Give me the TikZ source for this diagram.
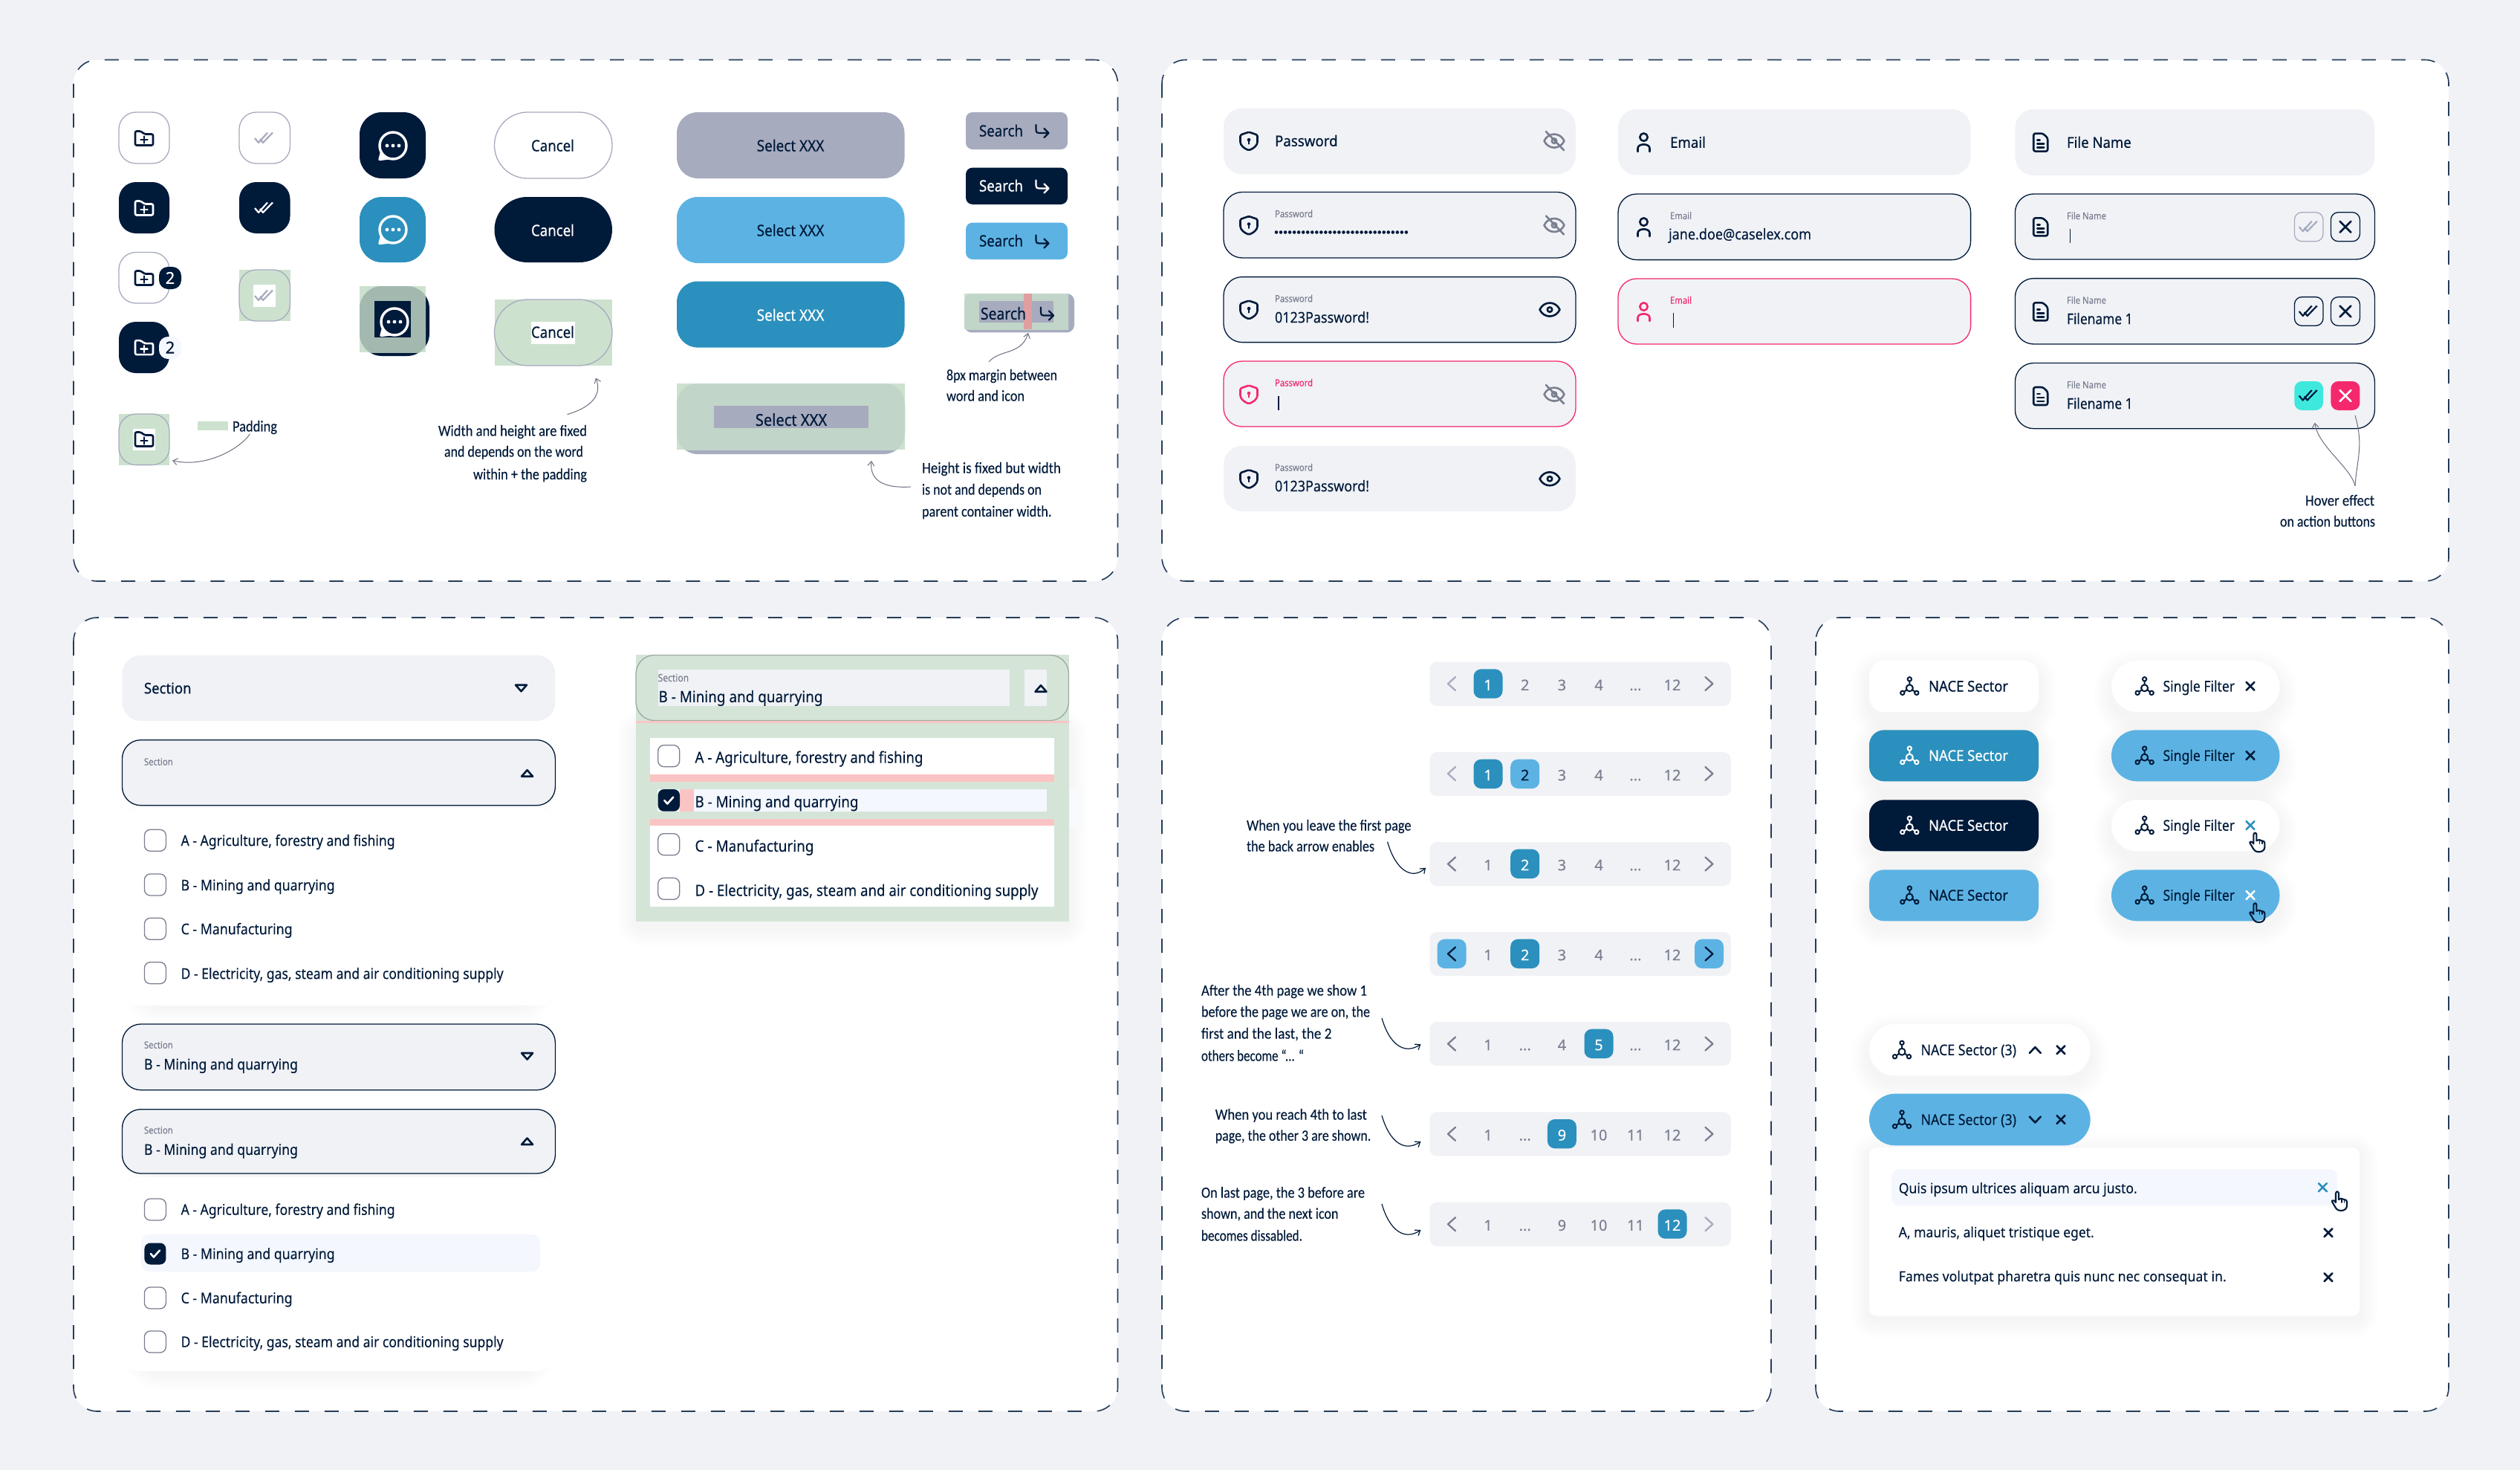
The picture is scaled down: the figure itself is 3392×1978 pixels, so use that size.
\documentclass[tikz,border=0pt]{standalone}
\usepackage{fontspec}
\usepackage{graphicx}
\usetikzlibrary{arrows.meta}
\setmainfont{Noto Sans}
\newfontfamily\uimed[FakeBold=0.55]{Noto Sans}
\newfontfamily\uireg[FakeBold=0.12]{Noto Sans}
\newfontfamily\handf[FakeBold=0.15]{Carlito}
\definecolor{cNavy}{HTML}{001A3A}
\definecolor{cGray}{HTML}{A7ABBE}
\definecolor{cLbl}{HTML}{7A7F90}
\definecolor{cLight}{HTML}{5CB3E3}
\definecolor{cMid}{HTML}{2B90BD}
\definecolor{cPage}{HTML}{F0F2F6}
\definecolor{cHov}{HTML}{F4F7FD}
\definecolor{cPink}{HTML}{F5286E}
\definecolor{cTeal}{HTML}{3EE8DC}
\definecolor{cGrn}{HTML}{CDE1CF}
\definecolor{cGrnB}{HTML}{C2D5C9}
\definecolor{cGrnC}{HTML}{D4E5D7}
\definecolor{cStrip}{HTML}{FBC4C4}
\definecolor{cArr}{HTML}{6B7080}
\newcounter{nn}
\newcommand\Dts{.\kern0pt.\kern0pt.}
\tikzset{
  txt/.style={inner sep=0pt,outer sep=0pt,anchor=base west,text=cNavy,font=\uireg},
  med/.style={font=\uimed},
  hnd/.style={font=\handf},
  ctr/.style={anchor=base},
  lbl/.style={text=cLbl},
  icn/.style={line width=2.6pt,line cap=round,line join=round},
  panel/.style={fill=white,draw=cNavy!85!white,line width=1.6pt,dash pattern=on 19pt off 21pt},
  outl/.style={draw=cGray,line width=1.3pt,fill=white},
  field/.style={fill=cPage},
  fieldO/.style={fill=cPage,draw=cNavy,line width=1.3pt},
  fieldE/.style={fill=cPage,draw=cPink,line width=1.3pt},
  cbx/.style={draw=cLbl,line width=1.3pt,fill=white},
  note/.style={draw=cArr,line width=1pt},
  tip/.style={-{Straight Barb[length=6pt,width=9pt]}},
}
\newcommand\Rc[6][]{\path[rounded corners=#6pt,#1] (#2,#3) rectangle (#4,#5);}
\newcommand\Tx[6][]{\stepcounter{nn}\node[txt,#1] (n\thenn) at (#2,{#3+0.36*#4}) {\fontsize{#4}{#4}\selectfont\ifdim#5pt=0pt\relax #6\else\resizebox{#5pt}{\height}{#6}\fi};}
\newcommand\Shd[6]{\foreach \k in {1,...,10}{\pgfmathsetmacro\rr{#5+2.5*\k}\path[fill=black,fill opacity=0.005,rounded corners=\rr pt] ({#1-2.5*\k},{#2-2.5*\k+#6}) rectangle ({#3+2.5*\k},{#4+2.5*\k+#6});}}
\newcommand\IcFolder[3]{\begin{scope}[shift={(#1,#2)},icn,color=#3]
 \draw[rounded corners=2pt] (-12,-9.5)--(-4,-9.5)--(0,-5.5)--(12,-5.5)--(12,9.5)--(-12,9.5)--cycle;
 \draw (-4.5,2)--(4.5,2) (0,-2.5)--(0,6.5);\end{scope}}
\newcommand\IcCheck[3]{\begin{scope}[shift={(#1,#2)},icn,color=#3,line width=2.2pt,line cap=butt]
 \draw (-13,0)--(-8,6)--(4,-7.5) (-6,1)--(-2,6)--(11,-7.5);\end{scope}}
\newcommand\IcChat[3]{\begin{scope}[shift={(#1,#2)},icn,color=#3,line width=3.4pt]
 \draw (0,0) circle[radius=18];
 \draw[fill=#3] (-6,17)--(-18,18.5)--(-15.5,9);
 \fill (-8,0) circle[radius=2.4] (0,0) circle[radius=2.4] (8,0) circle[radius=2.4];\end{scope}}
\newcommand\IcShield[3]{\begin{scope}[shift={(#1,#2)},icn,color=#3]
 \draw[rounded corners=1.5pt] (0,-12)--(11.5,-8)--(11.5,0) .. controls (11.5,6) and (6,10.5) .. (0,12.5) .. controls (-6,10.5) and (-11.5,6) .. (-11.5,0)--(-11.5,-8)--cycle;
 \fill (0,-1.5) circle[radius=2.3];\draw[line width=2pt] (0,-1)--(0,4);\end{scope}}
\newcommand\IcEye[3]{\begin{scope}[shift={(#1,#2)},icn,color=#3]
 \draw (-13.5,0) .. controls (-8,-12) and (8,-12) .. (13.5,0) .. controls (8,12) and (-8,12) .. (-13.5,0)--cycle;
 \draw (0,0) circle[radius=3.2];\end{scope}}
\newcommand\IcEyeOff[2]{\IcEye{#1}{#2}{cLbl}\begin{scope}[shift={(#1,#2)},icn,color=cLbl]\draw (-11,-12.5)--(13,12.5);\end{scope}}
\newcommand\IcPerson[3]{\begin{scope}[shift={(#1,#2)},icn,color=#3]
 \draw (0,-7) circle[radius=5.2];
 \draw (-8,12.5)--(-8,8) .. controls (-8,1) and (8,1) .. (8,8)--(8,12.5);\end{scope}}
\newcommand\IcDoc[3]{\begin{scope}[shift={(#1,#2)},icn,color=#3]
 \draw[rounded corners=2.5pt] (-9.5,-12)--(3,-12)--(9.5,-6)--(9.5,12)--(-9.5,12)--cycle;
 \draw (-4.5,-3)--(-1,-3) (-4.5,2)--(4.5,2) (-4.5,7)--(4.5,7);\end{scope}}
\newcommand\IcTri[3]{\begin{scope}[shift={(#1,#2)},icn,color=cNavy,yscale=#3]
 \draw (-7.5,-4)--(7.5,-4)--(0,4.5)--cycle;\end{scope}}
\newcommand\IcRet[3]{\begin{scope}[shift={(#1,#2)},icn,color=#3,line width=2.2pt]
 \draw (0,0)--(0,7) .. controls (0,10) and (1,11) .. (4,11)--(17,11) (11,5)--(17,11)--(11,17);\end{scope}}
\newcommand\IcNet[3]{\begin{scope}[shift={(#1,#2)},icn,color=#3,line width=2pt]
 \draw (0,-9.5) circle[radius=2.7] (-9.5,9) circle[radius=2.7] (9.5,9) circle[radius=2.7] (0,2.5) circle[radius=4.5];
 \draw (0,-6.8)--(0,-2) (-3.8,4.8)--(-7.2,7.6) (3.8,4.8)--(7.2,7.6);\end{scope}}
\newcommand\IcX[4]{\begin{scope}[shift={(#1,#2)},icn,color=#3]\draw (-#4,-#4)--(#4,#4) (-#4,#4)--(#4,-#4);\end{scope}}
\newcommand\IcHand[2]{\begin{scope}[shift={(#1,#2)},icn,color=cNavy,line width=2.1pt]
 \draw (-5,2)--(-5,-10) .. controls (-5,-13.5) and (-1,-13.5) .. (-1,-10)--(-1,-2) .. controls (2,-4) and (5,-3) .. (6,-2) .. controls (8,-2) and (10,-1) .. (10,1)--(10,6) .. controls (10,11) and (6,13) .. (2,13) .. controls (-3,13) and (-5,10) .. (-7,6)--(-10,1) .. controls (-11,-1) and (-7,-2) .. (-5,2);
 \draw[line width=1.5pt] (3,-3)--(3,2) (6.5,-2)--(6.5,2);\end{scope}}
\newcommand\IcChev[4]{\begin{scope}[shift={(#1,#2)},icn,color=#3,line width=2.3pt,xscale=#4]\draw (5,-9)--(-5,0)--(5,9);\end{scope}}
\newcommand\Cb[2]{\path[cbx,rounded corners=8pt] (#1,#2) rectangle ({#1+29},{#2+29});}
\newcommand\PBar[8]{\Rc[field]{1924.3}{#1}{2329.8}{#1+59.2}{10}
 \foreach \i/\lab/\cx in {1/#3/2003,2/#4/2052.7,3/#5/2102.4,4/#6/2152,5/#7/2201.4,6/#8/2251}{
  \ifnum\i=#2 \Rc[fill=cMid]{\cx-19.5}{#1+9.7}{\cx+19.5}{#1+49}{10}\Tx[ctr,text=white]{\cx}{#1+31}{20}{0}{\lab}
  \else\Tx[ctr,lbl]{\cx}{#1+31}{20}{0}{\lab}\fi}}
\begin{document}
\begin{tikzpicture}[x=1pt,y=-1pt]
\path[use as bounding box,fill=cPage] (0,0) rectangle (3392,1978);
% panels
\Rc[panel]{99}{80.5}{1504.5}{782}{32}
\Rc[panel]{1564}{80.5}{3296}{782}{32}
\Rc[panel]{99}{831}{1504.5}{1899}{32}
\Rc[panel]{1564}{831}{2384}{1899}{32}
\Rc[panel]{2444}{831}{3296}{1899}{32}
% folder buttons
\Rc[outl]{160}{151}{228}{220}{23}\IcFolder{194}{186}{cNavy}
\Rc[fill=cNavy]{160}{245}{228}{314}{23}\IcFolder{194}{280}{white}
\Rc[outl]{160}{339.5}{228}{408}{23}\IcFolder{194}{374}{cNavy}
\Rc[fill=cNavy]{214}{359}{244}{389}{12}\Tx[ctr,med,text=white]{229}{374}{22}{0}{2}
\Rc[fill=cNavy]{160}{433}{228}{502}{23}\IcFolder{194}{467.6}{white}
\Rc[fill=cHov]{214}{453}{244}{483}{12}\Tx[ctr,med]{229}{467.6}{22}{0}{2}
\path[fill=cGrn] (160,557) rectangle (228,625.6);
\Rc[draw=cGray,line width=1.3pt]{160}{557}{228}{625.6}{23}
\path[fill=white] (179,577) rectangle (209.4,606);\IcFolder{194}{591}{cNavy}
\path[fill=cGrn] (266,567) rectangle (307,579);
\Tx[hnd]{313}{573}{21}{60}{Padding}
\coordinate (a1s) at (336.4,584);\coordinate (a1e) at (232,619.6);
\draw[note,tip] (a1s) .. controls (322,605) and (275,630) .. (a1e);
% check buttons
\Rc[outl]{322}{151}{390.5}{220}{23}\IcCheck{356}{186}{cGray}
\Rc[fill=cNavy]{322}{245}{390.5}{314}{23}\IcCheck{356}{280}{white}
\path[fill=cGrn] (322,363) rectangle (390.5,432);
\Rc[draw=cGray,line width=1.3pt]{322}{363}{390.5}{432}{23}
\path[fill=white] (341,383) rectangle (371,412.5);\IcCheck{356}{398}{cGray}
% chat buttons
\Rc[fill=cNavy]{484}{151}{573}{240}{30}\IcChat{529}{196}{white}
\Rc[fill=cMid]{484}{265}{573}{353}{30}\IcChat{529}{309}{white}
\Rc[fill=cNavy]{484}{385}{578}{479}{30}
\path[fill=cGrn] (484,385) rectangle (573,474);
\begin{scope}\clip (484,385) rectangle (573,474);\Rc[fill={rgb,255:red,163;green,185;blue,176}]{484}{385}{578}{479}{30}\end{scope}
\path[fill=cNavy] (504,405) rectangle (553,454);\IcChat{531}{433}{white}
% cancel
\Rc[outl]{665.5}{151}{824}{240}{44.5}\Tx[ctr,med]{744}{196}{21}{58}{Cancel}
\Rc[fill=cNavy]{665.5}{265}{824}{353}{44}\Tx[ctr,med,text=white]{744}{310}{21}{58}{Cancel}
\path[fill=cGrn] (665.5,403) rectangle (824,492);
\Rc[draw=cGray,line width=1.3pt]{665.5}{403}{824}{492}{44.5}
\path[fill=white] (714.5,433) rectangle (774,462.5);\Tx[ctr,med]{744}{447}{21}{58}{Cancel}
\coordinate (a2s) at (763.5,557.6);\coordinate (a2e) at (802,508.5);
\draw[note,tip] (a2s) .. controls (790,550) and (812,535) .. (a2e);
\Tx[hnd]{590}{579}{21}{200}{Width and height are fixed}
\Tx[hnd]{598}{607}{21}{187}{and depends on the word}
\Tx[hnd]{637}{637.5}{21}{153}{within + the padding}
% select
\Rc[fill=cGray]{911}{151}{1217.5}{240}{28}\Tx[ctr,med]{1064}{196}{21}{90.6}{Select XXX}
\Rc[fill=cLight]{911}{265}{1217.5}{354}{28}\Tx[ctr,med]{1064}{310}{21}{90.6}{Select XXX}
\Rc[fill=cMid]{911}{378.5}{1217.5}{467.6}{28}\Tx[ctr,med,text=white]{1064}{424}{21}{90.6}{Select XXX}
\Rc[fill=cGray]{911}{516}{1218}{611}{28}
\path[fill=cGrn] (911,516) rectangle (1218,605);
\begin{scope}\clip (911,516) rectangle (1218,605);\Rc[fill=cGrnB]{911}{516}{1218}{611}{28}\end{scope}
\path[fill=cGray] (961,546) rectangle (1168.6,575.5);
\Tx[ctr,med]{1065}{565}{22}{96.3}{Select XXX}
% search
\Rc[fill=cGray]{1300}{151}{1437}{201}{9}\Tx[med]{1318}{176}{21}{59}{Search}\IcRet{1394.5}{168}{cNavy}
\Rc[fill=cNavy]{1300}{225.6}{1437}{275}{9}\Tx[med,text=white]{1318}{250}{21}{59}{Search}\IcRet{1394.5}{242.5}{white}
\Rc[fill=cLight]{1300}{299.6}{1437}{349}{9}\Tx[med]{1318}{324}{21}{59}{Search}\IcRet{1394.5}{316.5}{cNavy}
\Rc[fill=cGray]{1298}{395}{1446}{447.4}{10}
\path[fill=cGrn] (1298,395) rectangle (1438,443);
\begin{scope}\clip (1298,395) rectangle (1438,443);\Rc[fill=cGrnB]{1298}{395}{1446}{447.4}{10}\end{scope}
\path[fill=cGray] (1318,405) rectangle (1418,434);
\path[fill={rgb,255:red,224;green,158;blue,160}] (1378,395) rectangle (1388.6,443);
\Tx[med]{1320}{422}{22}{61}{Search}\IcRet{1401}{413.5}{cNavy}
\coordinate (a3s) at (1331,487);\coordinate (a3e) at (1384,448);
\draw[note,tip] (a3s) .. controls (1345,470) and (1375,478) .. (a3e);
\Tx[hnd]{1274}{504}{21}{149}{8px margin between}
\Tx[hnd]{1274}{532}{21}{105}{word and icon}
\coordinate (a4s) at (1226,655);\coordinate (a4e) at (1173,620);
\draw[note,tip] (a4s) .. controls (1195,657) and (1170,650) .. (a4e);
\Tx[hnd]{1241}{629}{21}{187}{Height is fixed but width}
\Tx[hnd]{1241}{658}{21}{161}{is not and depends on}
\Tx[hnd]{1241}{687.5}{21}{174.5}{parent container width.}
% password column
\Rc[field]{1647}{145.6}{2121}{234.4}{25}\IcShield{1681}{189.6}{cNavy}\Tx[med]{1716}{189.6}{20}{84.6}{Password}\IcEyeOff{2092}{189.6}
\Rc[fieldO]{1647}{258.5}{2121}{347}{25}\IcShield{1681}{303}{cNavy}\Tx[lbl]{1716}{287.6}{13}{51}{Password}\IcEyeOff{2092}{303}
\foreach \dq in {0,...,29}{\fill[cNavy] ({1718+6.03*\dq},312.5) circle[radius=2.3];}
\Rc[fieldO]{1647}{372.6}{2121}{460.6}{25}\IcShield{1681}{416.6}{cNavy}\Tx[lbl]{1716}{401.7}{13}{51}{Password}\Tx{1716}{427}{20}{127}{0123Password!}\IcEye{2086}{416.6}{cNavy}
\Rc[fieldE]{1647}{486}{2121}{574}{25}\IcShield{1681}{530.6}{cPink}\Tx[text=cPink]{1716}{515}{13}{51}{Password}\IcEyeOff{2092}{530.6}
\draw[cNavy,line width=1.4pt] (1720.8,532.5)--(1720.8,551.7);
\Rc[field]{1647}{600}{2121}{688}{25}\IcShield{1681}{644.3}{cNavy}\Tx[lbl]{1716}{629}{13}{51}{Password}\Tx{1716}{654}{20}{127}{0123Password!}\IcEye{2086}{644.3}{cNavy}
% email column
\Rc[field]{2178}{147}{2652.6}{235.6}{25}\IcPerson{2212.5}{191.6}{cNavy}\Tx[med]{2248}{191.6}{20}{48}{Email}
\Rc[fieldO]{2178}{261}{2652.6}{349.6}{25}\IcPerson{2212.5}{305.6}{cNavy}\Tx[lbl]{2248}{290.3}{13}{29}{Email}\Tx{2246}{315}{20}{192}{jane.doe@caselex.com}
\Rc[fieldE]{2178}{375}{2652.6}{463}{25}\IcPerson{2212.5}{419.6}{cPink}\Tx[text=cPink]{2248}{404}{13}{29}{Email}
\draw[cNavy,line width=1.4pt] (2252.4,421)--(2252.4,440.7);
% file column
\Rc[field]{2712.4}{147}{3196.4}{236}{25}\IcDoc{2746.7}{191.6}{cNavy}\Tx[med]{2782}{191.6}{20}{86.7}{File Name}
\Rc[fieldO]{2712.4}{261}{3196.4}{349}{25}\IcDoc{2746.7}{305.4}{cNavy}\Tx[lbl]{2782}{290.4}{13}{53}{File Name}
\draw[cNavy,line width=1.4pt] (2786.6,307.8)--(2786.6,326.8);
\Rc[draw=cGray,line width=1.3pt]{3088.4}{285.7}{3127}{324.8}{10}\IcCheck{3107.7}{305.2}{cGray}
\Rc[draw=cNavy,line width=1.3pt]{3137.4}{285.7}{3176.4}{324.8}{10}\IcX{3157}{305.2}{cNavy}{7.5}
\Rc[fieldO]{2712.4}{374.6}{3196.4}{463}{25}\IcDoc{2746.7}{419.3}{cNavy}\Tx[lbl]{2782}{404}{13}{53}{File Name}\Tx{2782}{429}{20}{88.5}{Filename 1}
\Rc[draw=cNavy,line width=1.3pt]{3088.4}{399.6}{3127}{438.3}{10}\IcCheck{3107.7}{419}{cNavy}
\Rc[draw=cNavy,line width=1.3pt]{3137.4}{399.6}{3176.4}{438.3}{10}\IcX{3157}{419}{cNavy}{7.5}
\Rc[fieldO]{2712.4}{488.5}{3196.4}{576.7}{25}\IcDoc{2746.7}{533}{cNavy}\Tx[lbl]{2782}{517.8}{13}{53}{File Name}\Tx{2782}{543}{20}{88.5}{Filename 1}
\Rc[fill=cTeal]{3088.4}{513}{3127}{552}{10}\IcCheck{3107.7}{532.5}{cNavy}
\Rc[fill=cPink]{3137.4}{513}{3176.4}{552}{10}\IcX{3157}{532.5}{white}{7.5}
\coordinate (a5s) at (3170,653.8);\coordinate (a5e) at (3115.7,568.8);\coordinate (a5f) at (3170,559);
\draw[note,tip] (a5s) .. controls (3165,630) and (3120,600) .. (a5e);
\draw[note] (a5s) .. controls (3172,620) and (3182,600) .. (a5f);
\Tx[hnd]{3103}{672.8}{21}{93}{Hover effect}
\Tx[hnd]{3069}{701}{21}{128}{on action buttons}
% dropdowns left
\Rc[field]{164.5}{881.7}{747.4}{970}{25}\Tx[med]{194}{926}{20}{63.5}{Section}\IcTri{701.5}{925.7}{1}
\Shd{190}{1086.7}{722}{1353}{25}{0}
\Rc[fill=white]{164.5}{1086.7}{747.4}{1353}{25}
\Rc[fieldO]{164.5}{995.7}{747.4}{1083.7}{25}\Tx[lbl]{194}{1025}{13}{38.7}{Section}\IcTri{709.6}{1040.7}{-1}
\Cb{194.4}{1116.3}\Tx{243.6}{1131}{20}{288}{A - Agriculture, forestry and fishing}
\Cb{194.4}{1176}\Tx{243.6}{1191}{20}{207}{B - Mining and quarrying}
\Cb{194.4}{1235.3}\Tx{243.6}{1250}{20}{150}{C - Manufacturing}
\Cb{194.4}{1294.7}\Tx{243.6}{1310}{20}{434}{D - Electricity, gas, steam and air conditioning supply}
\Rc[fieldO]{164.5}{1378}{747.4}{1466.7}{25}\Tx[lbl]{194}{1406}{13}{38.7}{Section}\Tx{194}{1432}{20}{207}{B - Mining and quarrying}\IcTri{709.6}{1421}{1}
\Shd{190}{1583.7}{722}{1845}{25}{0}
\Rc[fill=white]{164.5}{1583.7}{747.4}{1845}{25}
\Rc[fieldO]{164.5}{1492.7}{747.4}{1579}{25}\Tx[lbl]{194}{1520.7}{13}{38.7}{Section}\Tx{194}{1546.7}{20}{207}{B - Mining and quarrying}\IcTri{709.6}{1536}{-1}
\Rc[fill=cHov]{190}{1661}{727}{1711}{10}
\Cb{194.4}{1613}\Tx{243.6}{1627.5}{20}{288}{A - Agriculture, forestry and fishing}
\Rc[fill=cNavy]{194.4}{1672.5}{223.4}{1701.5}{8}\begin{scope}[shift={(208.9,1687)}]\draw[white,icn] (-6,0)--(-2,4.5)--(6,-4.5);\end{scope}
\Tx{243.6}{1687}{20}{207}{B - Mining and quarrying}
\Cb{194.4}{1732}\Tx{243.6}{1746.5}{20}{150}{C - Manufacturing}
\Cb{194.4}{1791}\Tx{243.6}{1805.5}{20}{434}{D - Electricity, gas, steam and air conditioning supply}
% dropdown anatomy
\Shd{855.5}{973}{1439}{1240}{10}{8}
\path[fill=cGrnC] (855.5,880.7) rectangle (1439,970);
\Rc[draw=cGrnB!80!black,line width=1.3pt]{856}{881.5}{1438.5}{969.5}{25}
\path[fill=cPage] (885.7,900.7) rectangle (1359,950);
\path[fill=cPage] (1379,900.7) rectangle (1409.4,950);
\Tx[lbl]{885.7}{912}{14}{41.5}{Section}\Tx{886.5}{937.3}{21}{221}{B - Mining and quarrying}\IcTri{1401}{926.7}{-1}
\path[fill=cStrip] (855.5,970) rectangle (1439,973.3);
\path[fill={rgb,255:red,248;green,250;blue,254}] (1439,1062) rectangle (1456,1113);
\path[fill=cGrnC] (855.5,973.3) rectangle (1439,1240);
\path[fill=white] (875,992.7) rectangle (1419,1042);
\path[fill=cStrip] (875,1042) rectangle (1419,1052);
\path[fill=cHov] (885,1062) rectangle (1409,1091.7);
\path[fill=cStrip] (915,1062) rectangle (934,1091.7);
\path[fill=cStrip] (875,1101.7) rectangle (1419,1111);
\path[fill=white] (875,1111) rectangle (1419,1220);
\Cb{885.7}{1002.7}\Tx{935.5}{1019}{21}{307}{A - Agriculture, forestry and fishing}
\Rc[fill=cNavy]{885.7}{1062}{915}{1091.7}{8}\begin{scope}[shift={(900.3,1077)}]\draw[white,icn] (-6,0)--(-2,4.5)--(6,-4.5);\end{scope}
\Tx{935.5}{1078.7}{21}{220}{B - Mining and quarrying}
\Cb{885.7}{1121.7}\Tx{935.5}{1138.3}{21}{160}{C - Manufacturing}
\Cb{885.7}{1181.3}\Tx{935.5}{1198}{21}{462}{D - Electricity, gas, steam and air conditioning supply}
% pagination
\PBar{890.7}{1}{1}{2}{3}{4}{\Dts}{12}\IcChev{1954}{920}{cGray}{1}\IcChev{2300.4}{920}{cLbl}{-1}
\PBar{1012}{1}{1}{2}{3}{4}{\Dts}{12}\IcChev{1954}{1041}{cGray}{1}\IcChev{2300.4}{1041}{cLbl}{-1}
\Rc[fill=cLight]{2033.2}{1021.7}{2072.2}{1061}{10}\Tx[ctr]{2052.7}{1043}{20}{0}{2}
\PBar{1133}{2}{1}{2}{3}{4}{\Dts}{12}\IcChev{1954}{1162.5}{cLbl}{1}\IcChev{2300.4}{1162.5}{cLbl}{-1}
\PBar{1254}{2}{1}{2}{3}{4}{\Dts}{12}
\Rc[fill=cLight]{1934.5}{1263.7}{1973.5}{1303}{10}\IcChev{1954}{1283.5}{cNavy}{1}
\Rc[fill=cLight]{2281}{1263.7}{2320}{1303}{10}\IcChev{2300.4}{1283.5}{cNavy}{-1}
\PBar{1375}{4}{1}{\Dts}{4}{5}{\Dts}{12}\IcChev{1954}{1404.5}{cLbl}{1}\IcChev{2300.4}{1404.5}{cLbl}{-1}
\PBar{1496.3}{3}{1}{\Dts}{9}{10}{11}{12}\IcChev{1954}{1525.8}{cLbl}{1}\IcChev{2300.4}{1525.8}{cLbl}{-1}
\PBar{1617.7}{6}{1}{\Dts}{9}{10}{11}{12}\IcChev{1954}{1647.2}{cLbl}{1}\IcChev{2300.4}{1647.2}{cGray}{-1}
\Tx[hnd]{1678}{1110}{21}{221.5}{When you leave the first page}
\Tx[hnd]{1678}{1138}{21}{172}{the back arrow enables}
\coordinate (p1s) at (1867.6,1132.7);\coordinate (p1e) at (1919,1167.7);
\draw[cNavy,line width=1.2pt,tip] (p1s) .. controls (1878,1170) and (1900,1185) .. (p1e);
\Tx[hnd]{1617}{1332}{21}{223}{After the 4th page we show 1}
\Tx[hnd]{1617}{1360.7}{21}{227}{before the page we are on, the}
\Tx[hnd]{1617}{1390}{21}{175.5}{first and the last, the 2}
\Tx[hnd]{1617}{1420}{21}{138}{others become “... “}
\coordinate (p2s) at (1860,1370);\coordinate (p2e) at (1912.4,1405);
\draw[cNavy,line width=1.2pt,tip] (p2s) .. controls (1870,1405) and (1890,1420) .. (p2e);
\Tx[hnd]{1635.8}{1499}{21}{204}{When you reach 4th to last}
\Tx[hnd]{1635.8}{1527.3}{21}{209.5}{page, the other 3 are shown.}
\coordinate (p3s) at (1860,1501);\coordinate (p3e) at (1912.4,1536);
\draw[cNavy,line width=1.2pt,tip] (p3s) .. controls (1870,1536) and (1890,1551) .. (p3e);
\Tx[hnd]{1617}{1604}{21}{220}{On last page, the 3 before are}
\Tx[hnd]{1617}{1632.3}{21}{184.5}{shown, and the next icon}
\Tx[hnd]{1617}{1662}{21}{136}{becomes dissabled.}
\coordinate (p4s) at (1860,1620);\coordinate (p4e) at (1912.4,1655);
\draw[cNavy,line width=1.2pt,tip] (p4s) .. controls (1870,1655) and (1890,1670) .. (p4e);
% chips
\foreach \yy/\co/\tc/\ic in {889/white/cNavy/cNavy,982.3/cMid/white/white,1076.3/cNavy/white/white,1170.3/cLight/cNavy/cNavy}{
 \Shd{2516}{\yy}{2744}{\yy+69}{20}{10}\Rc[fill=\co]{2516}{\yy}{2744}{\yy+69}{20}
 \IcNet{2570.3}{\yy+34.3}{\ic}\Tx[med,text=\tc]{2596}{\yy+34.3}{20}{107}{NACE Sector}}
\foreach \yy/\co/\xc in {889/white/cNavy,982.3/cLight/cNavy,1076.3/white/cMid,1170.3/cLight/white}{
 \Shd{2842}{\yy}{3068.5}{\yy+69}{34.5}{10}\Rc[fill=\co]{2842}{\yy}{3068.5}{\yy+69}{34.5}
 \IcNet{2886.6}{\yy+34.3}{cNavy}\Tx{2911.5}{\yy+34.3}{20}{96.5}{Single Filter}\IcX{3029}{\yy+34.3}{\xc}{5.5}}
\IcHand{3038.4}{1133.3}\IcHand{3038.4}{1228}
\Shd{2516}{1378}{2813.7}{1447.3}{34.6}{10}\Rc[fill=white]{2516}{1378}{2813.7}{1447.3}{34.6}
\IcNet{2560}{1412.7}{cNavy}\Tx{2585.5}{1412.7}{20}{128.5}{NACE Sector (3)}
\begin{scope}[shift={(2739.3,1413)},icn,color=cNavy]\draw (-7.5,4)--(0,-4)--(7.5,4);\end{scope}\IcX{2774}{1412.7}{cNavy}{5.5}
\Shd{2516}{1544}{3176}{1770.7}{10}{6}
\Rc[fill=white]{2516}{1544}{3176}{1770.7}{10}
\Rc[fill=cLight]{2516}{1471.7}{2813.7}{1541.3}{34.8}
\IcNet{2560}{1506.5}{cNavy}\Tx{2585.5}{1506.5}{20}{128.5}{NACE Sector (3)}
\begin{scope}[shift={(2739.3,1506.5)},icn,color=cNavy]\draw (-7.5,-4)--(0,4)--(7.5,-4);\end{scope}\IcX{2774}{1506.5}{cNavy}{5.5}
\Rc[fill=cHov]{2546}{1573.3}{3146}{1622.3}{10}
\Tx{2555.7}{1598.7}{19}{321}{Quis ipsum ultrices aliquam arcu justo.}\IcX{3126.4}{1597.7}{cMid}{5.5}
\Tx{2555.7}{1658}{19}{263}{A, mauris, aliquet tristique eget.}\IcX{3134}{1658.7}{cNavy}{5.5}
\Tx{2555.7}{1717.3}{19}{441}{Fames volutpat pharetra quis nunc nec consequat in.}\IcX{3134}{1718.7}{cNavy}{5.5}
\IcHand{3149}{1616}
\end{tikzpicture}
\end{document}
